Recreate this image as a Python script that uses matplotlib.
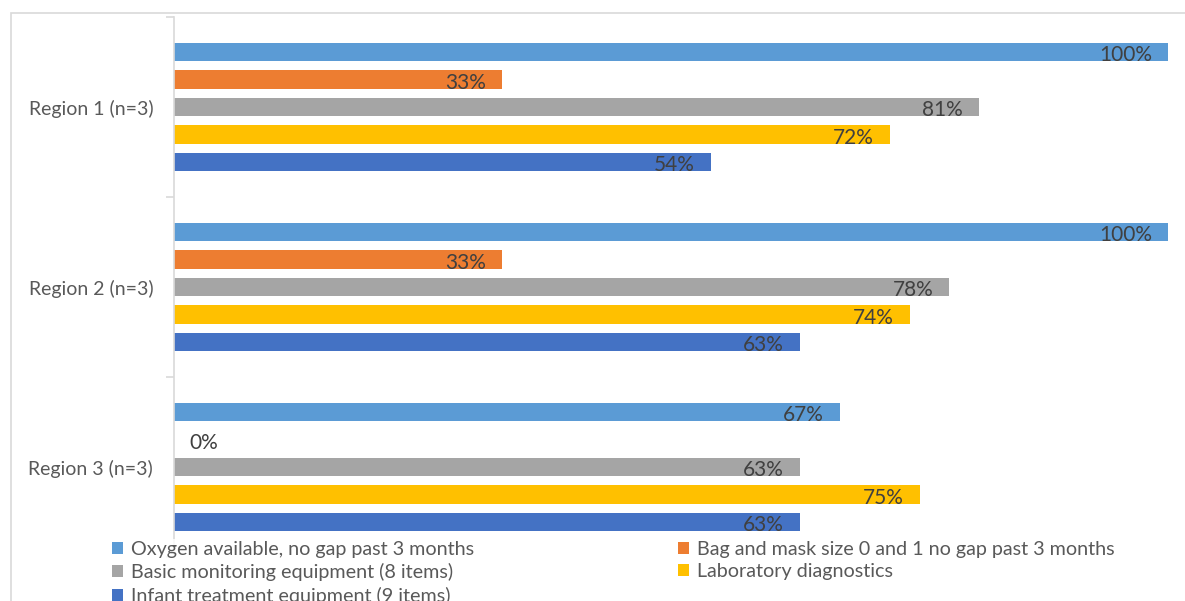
import matplotlib
matplotlib.use('Agg')
import matplotlib.pyplot as plt
from matplotlib.patches import Patch, Rectangle
import numpy as np

plt.rcParams['font.family'] = ['Lato', 'DejaVu Sans']

regions = ['Region 1 (n=3)', 'Region 2 (n=3)', 'Region 3 (n=3)']
series = ['Oxygen available, no gap past 3 months',
          'Bag and mask size 0 and 1 no gap past 3 months',
          'Basic monitoring equipment (8 items)',
          'Laboratory diagnostics',
          'Infant treatment equipment (9 items)']
colors = ['#5B9BD5', '#ED7D31', '#A5A5A5', '#FFC000', '#4472C4']

oxygen = [100, 100, 67]
bag_mask = [33, 33, 0]
monitoring = [81, 78, 63]
lab = [72, 74, 75]
infant = [54, 63, 63]
values = [oxygen, bag_mask, monitoring, lab, infant]

W, H = 1185, 601
fig = plt.figure(figsize=(W / 100, H / 100), dpi=100)

# chart area outline (runs off the right and bottom edges)
fig.patches.append(Rectangle((11 / W, -0.1), 1.2, 1 - 13 / H + 0.1,
                             transform=fig.transFigure, fill=False,
                             edgecolor='#d9d9d9', lw=1.2))

ax = fig.add_axes([174 / W, 1 - 557 / H, (1168 - 174) / W, 540 / H])
ax.set_xlim(0, 100)
ax.set_ylim(2.5, -0.5)

step = 27.5 / 180
bar_h = 18.5 / 180
y = np.arange(len(regions))
for k, (vals, col) in enumerate(zip(values, colors)):
    yy = y + (k - 2) * step
    ax.barh(yy, vals, height=bar_h, color=col, zorder=2)
    for yi, v in zip(yy, vals):
        if v > 0:
            ax.annotate(f'{v}%', (v, yi + bar_h / 2), xytext=(-16, 0),
                        textcoords='offset pixels', ha='right', va='baseline',
                        fontsize=15, color='#404040', zorder=3)
        else:
            ax.annotate(f'{v}%', (0, yi + bar_h / 2), xytext=(15, 0),
                        textcoords='offset pixels', ha='left', va='baseline',
                        fontsize=15, color='#404040', zorder=3)

for s in ['top', 'right', 'bottom']:
    ax.spines[s].set_visible(False)
ax.spines['left'].set_color('#d9d9d9')
ax.spines['left'].set_linewidth(1.2)
ax.set_xticks([])
ax.set_yticks([-0.5, 0.5, 1.5, 2.5])
ax.set_yticklabels([])
ax.tick_params(axis='y', length=6, color='#d9d9d9', width=1.2)
ax.set_yticks(y, minor=True)
ax.set_yticklabels(regions, minor=True, fontsize=14, color='#595959')
ax.tick_params(axis='y', which='minor', length=0, pad=15)

handles = [Patch(facecolor=c) for c in colors]
leg_kw = dict(loc='upper left', frameon=True, facecolor='white',
              edgecolor='none', fancybox=False, borderpad=0.1,
              fontsize=14.2, labelcolor='#595959', handlelength=0.55,
              handleheight=0.55, handletextpad=0.4, labelspacing=0.27,
              borderaxespad=0)
leg1 = fig.legend([handles[0], handles[2], handles[4]],
                  [series[0], series[2], series[4]],
                  bbox_to_anchor=(110 / W, 1 - 539 / H), **leg_kw)
leg2 = fig.legend([handles[1], handles[3]], [series[1], series[3]],
                  bbox_to_anchor=(676 / W, 1 - 539 / H), **leg_kw)

fig.savefig('out.png', dpi=100)
